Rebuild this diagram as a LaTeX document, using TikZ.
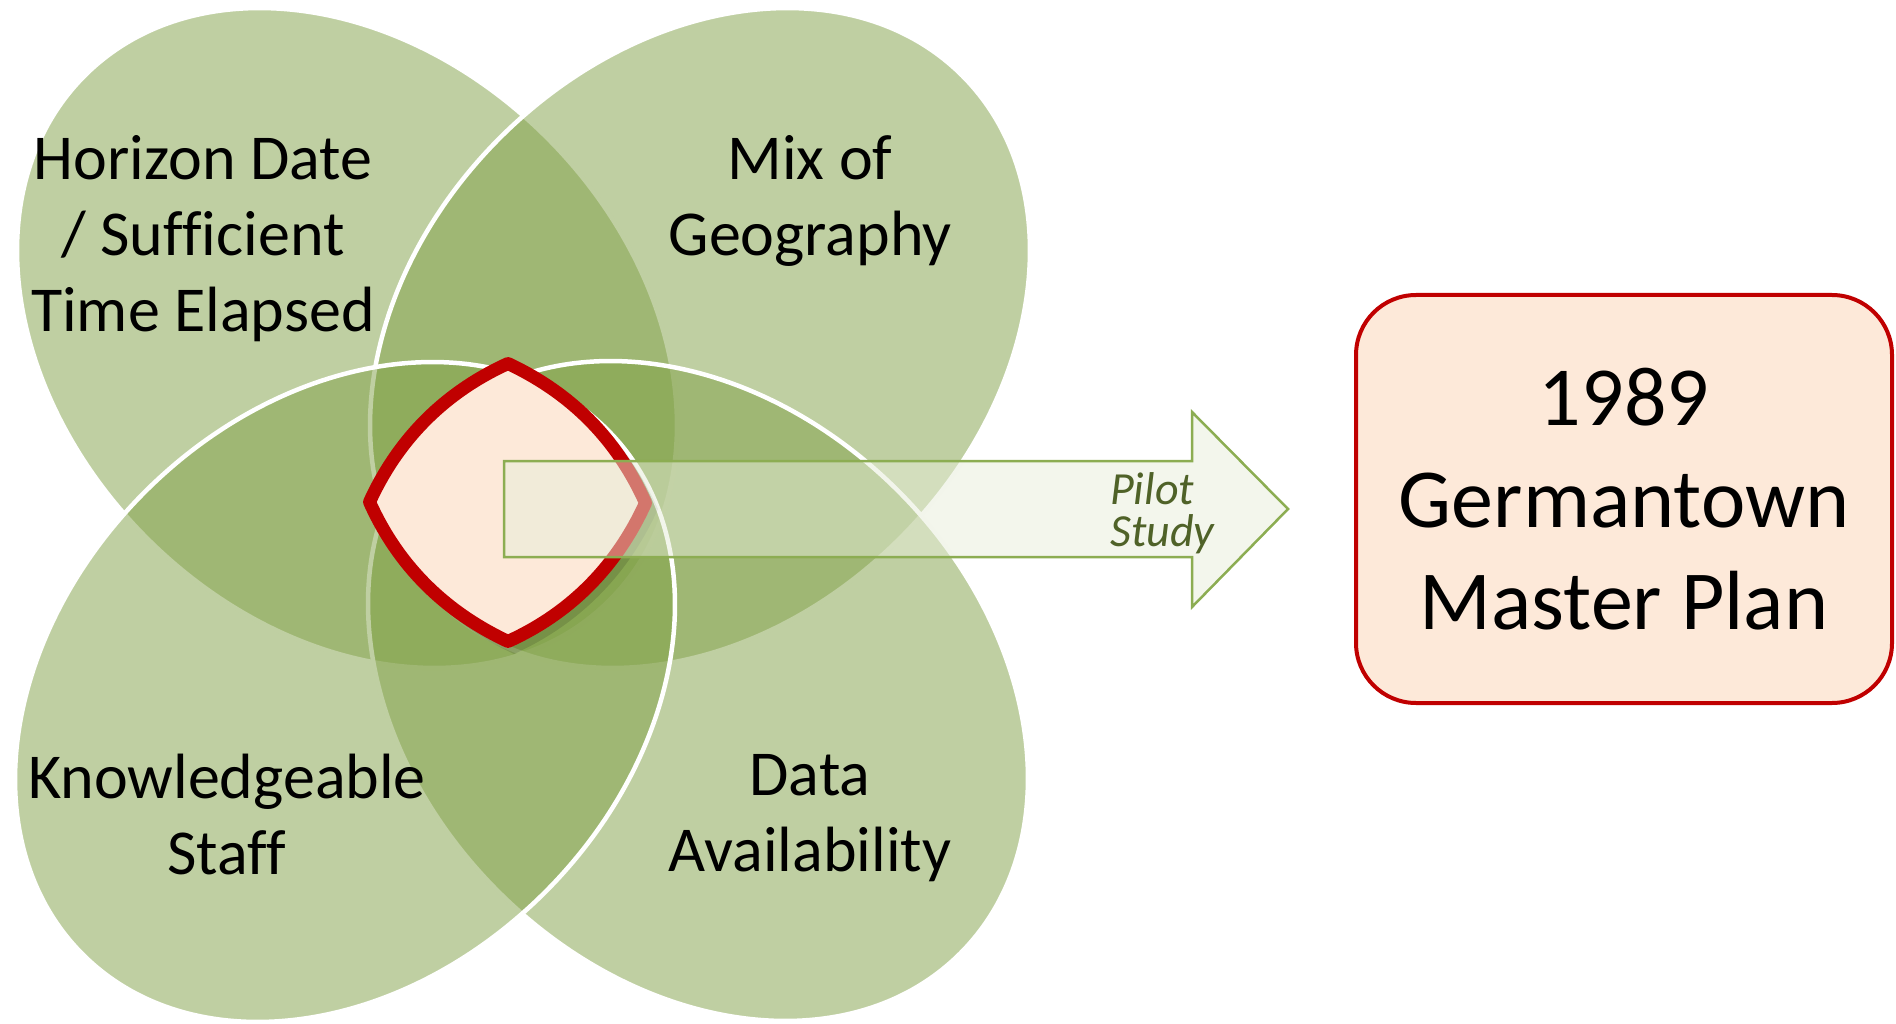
\documentclass[tikz,border=0pt]{standalone}
\usepackage{fontspec}
\setmainfont{Carlito}[Ligatures=CommonOff]
\definecolor{lobegreen}{HTML}{80A046}
\definecolor{planred}{HTML}{C00000}
\definecolor{planfill}{HTML}{FDE9D9}
\definecolor{arrowline}{HTML}{8CAD52}
\definecolor{arrowfill}{HTML}{E7EDD9}
\definecolor{pilottext}{HTML}{4F6228}
\def\kitepath{(508,357) .. controls (574,388) and (622,436) .. (652,503)
  .. controls (622,569) and (574,618) .. (508,648)
  .. controls (442,617) and (393,569) .. (363,502)
  .. controls (393,436) and (442,387) .. cycle}
\tikzset{
  lobe/.style={draw=white, line width=4.5pt, fill=lobegreen, fill opacity=0.5},
  lobelabel/.style={font=\fontsize{64}{76}\selectfont, align=center, inner sep=0pt,
    anchor=north, execute at begin node=\strut},
  planbox/.style={draw=planred, line width=4pt, fill=planfill, rounded corners=60pt,
    minimum width=536pt, minimum height=408pt, align=center,
    font=\fontsize{84}{102}\selectfont},
}
\begin{document}
\begin{tikzpicture}[x=1pt, y=-1pt]
    \useasboundingbox (0,0) rectangle (1896,1024);
    \coordinate (tl) at (347,338);
    \coordinate (tr) at (700,338);
    \coordinate (bl) at (345,692);
    \coordinate (br) at (698,691);

    \draw[lobe, rotate around={-45:(tl)}] (tl) ellipse (371pt and 283pt);
    \draw[lobe, rotate around={45:(tr)}] (tr) ellipse (371pt and 283pt);
    \draw[lobe, rotate around={-45:(br)}] (br) ellipse (371pt and 283pt);
    \draw[lobe, rotate around={45:(bl)}] (bl) ellipse (371pt and 283pt);

    \fill[black, opacity=0.12, shift={(6,6)}] \kitepath;
    \fill[planfill] \kitepath;
    \draw[planred, line width=13pt, line join=round, scale around={0.955:(508,502)}] \kitepath;

    \draw[fill=arrowfill, fill opacity=0.5, draw=arrowline, line width=2.5pt]
      (504,461) -- (1192,461) -- (1192,412) -- (1288,509) -- (1192,607)
      -- (1192,557) -- (504,557) -- cycle;
    \node[anchor=north west, inner sep=0pt, align=left, text=pilottext,
      font=\itshape\fontsize{46}{42}\selectfont] (pilot) at (1110,472) {Pilot\\Study};

    \node[lobelabel] (horizon) at (203,135) {Horizon Date\\/ Sufficient\\Time Elapsed};
    \node[lobelabel] (geography) at (810,135) {Mix of\\Geography};
    \node[lobelabel] (staff) at (227,754) {Knowledgeable\\Staff};
    \node[lobelabel] (data) at (810,754) {Data\\Availability};

    \node[planbox] (plan) at (1624,499) {1989\\Germantown\\Master Plan};
\end{tikzpicture}
\end{document}
